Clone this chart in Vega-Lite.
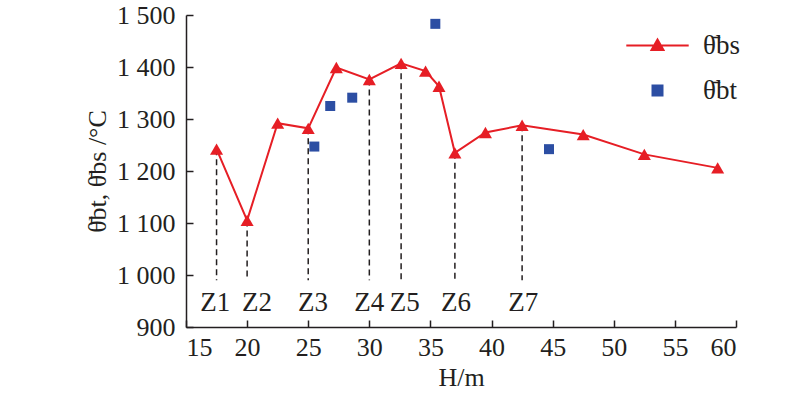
{
  "$schema": "https://vega.github.io/schema/vega-lite/v6.json",
  "width": 550,
  "height": 312,
  "autosize": {"type": "none"},
  "padding": {"left": 186, "top": 15, "right": 64, "bottom": 69},
  "background": "white",
  "config": {
    "font": "Liberation Serif",
    "view": {"stroke": null},
    "axis": {
      "labelFont": "Liberation Serif",
      "titleFont": "Liberation Serif",
      "labelFontSize": 26,
      "titleFontSize": 26,
      "titleFontWeight": "normal",
      "labelColor": "#231f20",
      "titleColor": "#231f20",
      "domainColor": "#231f20",
      "tickColor": "#231f20",
      "domainWidth": 1.5,
      "tickWidth": 1.5,
      "grid": false
    }
  },
  "datasets": {
    "bs": [
      {"H": 17.5, "T": 1242, "series": "bs"},
      {"H": 20, "T": 1105, "series": "bs"},
      {"H": 22.5, "T": 1292, "series": "bs"},
      {"H": 25, "T": 1282, "series": "bs"},
      {"H": 27.3, "T": 1399, "series": "bs"},
      {"H": 30, "T": 1376, "series": "bs"},
      {"H": 32.6, "T": 1407, "series": "bs"},
      {"H": 34.6, "T": 1392, "series": "bs"},
      {"H": 35.7, "T": 1363, "series": "bs"},
      {"H": 37, "T": 1235, "series": "bs"},
      {"H": 39.5, "T": 1274, "series": "bs"},
      {"H": 42.5, "T": 1288, "series": "bs"},
      {"H": 47.5, "T": 1270, "series": "bs"},
      {"H": 52.5, "T": 1232, "series": "bs"},
      {"H": 58.5, "T": 1206, "series": "bs"}
    ],
    "bt": [
      {"H": 25.5, "T": 1247, "series": "bt"},
      {"H": 26.8, "T": 1325, "series": "bt"},
      {"H": 28.6, "T": 1341, "series": "bt"},
      {"H": 35.4, "T": 1483, "series": "bt"},
      {"H": 44.7, "T": 1242, "series": "bt"}
    ],
    "zones": [
      {"zone": "Z1", "H": 17.5, "top": 1242, "bottom": 990, "labelH": 17.4},
      {"zone": "Z2", "H": 20, "top": 1105, "bottom": 990, "labelH": 20.8},
      {"zone": "Z3", "H": 25, "top": 1282, "bottom": 990, "labelH": 25.4},
      {"zone": "Z4", "H": 30, "top": 1376, "bottom": 990, "labelH": 30},
      {"zone": "Z5", "H": 32.6, "top": 1407, "bottom": 990, "labelH": 32.9},
      {"zone": "Z6", "H": 37, "top": 1235, "bottom": 990, "labelH": 37.1},
      {"zone": "Z7", "H": 42.5, "top": 1288, "bottom": 990, "labelH": 42.6}
    ]
  },
  "layer": [
    {
      "data": {"name": "zones"},
      "mark": {"type": "rule", "color": "#231f20", "strokeWidth": 1.5, "strokeDash": [6, 4]},
      "encoding": {
        "x": {"field": "H", "type": "quantitative", "scale": {"domain": [15, 60], "nice": false},
          "axis": {"title": "H/m", "values": [15, 20, 25, 30, 35, 40, 45, 50, 55, 60], "tickSize": -7, "labelPadding": 14, "titlePadding": 4}},
        "y": {"field": "top", "type": "quantitative", "scale": {"domain": [900, 1500], "nice": false},
          "axis": {"title": "θ̄bt, θ̄bs /°C", "values": [900, 1000, 1100, 1200, 1300, 1400, 1500], "tickSize": -7, "labelPadding": 18, "titlePadding": 6,
            "labelExpr": "replace(format(datum.value, ','), ',', ' ')"}},
        "y2": {"field": "bottom"}
      }
    },
    {
      "data": {"name": "zones"},
      "mark": {"type": "text", "fontSize": 27, "font": "Liberation Serif", "color": "#231f20", "baseline": "middle", "align": "center"},
      "encoding": {
        "x": {"field": "labelH", "type": "quantitative"},
        "y": {"datum": 946},
        "text": {"field": "zone"}
      }
    },
    {
      "data": {"name": "bs"},
      "mark": {"type": "line", "strokeWidth": 2},
      "encoding": {
        "x": {"field": "H", "type": "quantitative"},
        "y": {"field": "T", "type": "quantitative"},
        "color": {"field": "series", "type": "nominal",
          "scale": {"domain": ["bs", "bt"], "range": ["#e61e25", "#2c4ea3"]},
          "legend": {
            "orient": "none", "legendX": 458, "legendY": 17, "title": null, "padding": 0,
            "labelFont": "Liberation Serif", "labelFontSize": 27, "labelColor": "#231f20",
            "labelExpr": "datum.value === 'bs' ? 'θ̄bs' : 'θ̄bt'",
            "symbolSize": 144, "labelOffset": 32, "rowPadding": 17,
            "encode": {"symbols": {"update": {
              "shape": {"signal": "datum.value === 'bs' ? 'M-5.2,0H5.2M0,-1L1,0.75L-1,0.75Z' : 'square'"},
              "size": {"signal": "datum.value === 'bs' ? 144 : 100"},
              "stroke": {"signal": "datum.value === 'bs' ? '#e61e25' : 'transparent'"},
              "strokeWidth": {"value": 2},
              "fill": {"signal": "datum.value === 'bs' ? '#e61e25' : '#2c4ea3'"},
              "opacity": {"value": 1}
            }}}
          }}
      }
    },
    {
      "data": {"name": "bs"},
      "mark": {"type": "point", "shape": "triangle-up", "filled": true, "size": 170, "opacity": 1},
      "encoding": {
        "x": {"field": "H", "type": "quantitative"},
        "y": {"field": "T", "type": "quantitative"},
        "color": {"field": "series", "type": "nominal"}
      }
    },
    {
      "data": {"name": "bt"},
      "mark": {"type": "point", "shape": "square", "filled": true, "size": 100, "opacity": 1},
      "encoding": {
        "x": {"field": "H", "type": "quantitative"},
        "y": {"field": "T", "type": "quantitative"},
        "color": {"field": "series", "type": "nominal"}
      }
    }
  ]
}
